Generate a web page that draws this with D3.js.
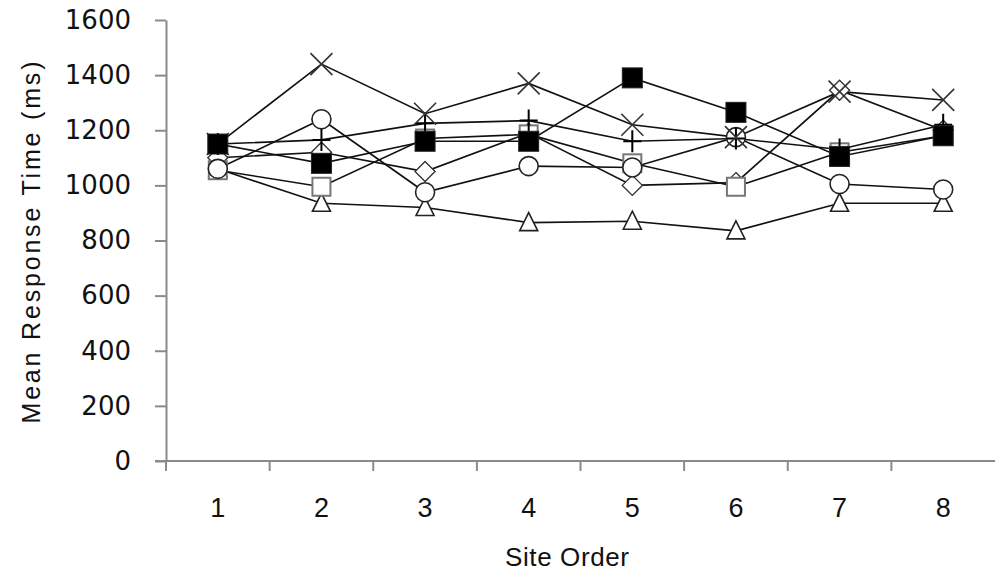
<!DOCTYPE html>
<html lang="en">
<head>
    <meta charset="UTF-8">
    <title>Mean Response Time by Site Order</title>
    <script src="https://d3js.org/d3.v7.min.js"></script>
    <style>
        body { margin: 0; background: #fff; }
    </style>
</head>
<body>
    <div id="chart"></div>
    <script>
        // Data
        const siteOrder = [1, 2, 3, 4, 5, 6, 7, 8];
        const yTicks = [0, 200, 400, 600, 800, 1000, 1200, 1400, 1600];

        const filledSquare = [1150, 1080, 1160, 1160, 1390, 1265, 1105, 1180];
        const crossX = [1150, 1440, 1260, 1370, 1220, 1175, 1340, 1310];
        const plus = [1150, 1165, 1225, 1235, 1160, 1170, 1130, 1220];
        const openSquare = [1055, 995, 1170, 1185, 1080, 995, 1120, 1180];
        const diamond = [1100, 1120, 1050, 1190, 1000, 1010, 1345, 1200];
        const circle = [1060, 1240, 975, 1070, 1065, 1175, 1005, 985];
        const triangle = [1060, 935, 920, 865, 870, 835, 935, 935];

        // drawing order: later series sit on top
        const series = [
            { name: "triangle", values: triangle },
            { name: "diamond", values: diamond },
            { name: "openSquare", values: openSquare },
            { name: "circle", values: circle },
            { name: "plus", values: plus },
            { name: "crossX", values: crossX },
            { name: "filledSquare", values: filledSquare }
        ];

        const svg = d3.select("#chart").append("svg")
            .attr("width", 995)
            .attr("height", 578);

        const margin = {top: 20, right: 0, bottom: 117, left: 166},
              width = 995 - margin.left - margin.right,
              height = 578 - margin.top - margin.bottom;

        const x = d3.scaleBand().domain(siteOrder).range([margin.left, margin.left + width]);
        const y = d3.scaleLinear().domain([0, 1600]).range([margin.top + height, margin.top]);
        const cx = d => x(d) + x.bandwidth() / 2;

        const axisColor = "#8a8a8a";

        // y axis
        const yAxis = svg.append("g")
            .attr("transform", `translate(${margin.left},0)`)
            .call(d3.axisLeft(y).tickValues(yTicks).tickFormat(d3.format("d"))
                .tickSize(11).tickPadding(24).tickSizeOuter(0));
        yAxis.select(".domain").attr("stroke", axisColor).attr("stroke-width", 2);
        yAxis.selectAll(".tick line").attr("stroke", axisColor).attr("stroke-width", 2);
        yAxis.selectAll("text")
            .style("font-family", "DejaVu Sans")
            .style("font-size", "26px")
            .attr("fill", "#111");

        // x axis: labels centred in bands, ticks on band edges
        const xAxis = svg.append("g")
            .attr("transform", `translate(0,${margin.top + height})`)
            .call(d3.axisBottom(x).tickSize(0).tickPadding(37));
        xAxis.select(".domain").remove();
        xAxis.selectAll("text")
            .style("font-family", "Liberation Sans Narrow, Liberation Sans")
            .style("font-size", "27px")
            .attr("fill", "#111");

        const xBase = margin.top + height;
        svg.append("line")
            .attr("x1", margin.left - 11).attr("x2", margin.left + width)
            .attr("y1", xBase).attr("y2", xBase)
            .attr("stroke", axisColor).attr("stroke-width", 2);
        svg.selectAll(".xtick")
            .data(siteOrder)
            .join("line")
            .attr("class", "xtick")
            .attr("x1", d => x(d)).attr("x2", d => x(d))
            .attr("y1", xBase).attr("y2", xBase + 10)
            .attr("stroke", axisColor).attr("stroke-width", 2);

        // axis titles
        svg.append("text")
            .attr("transform", `translate(40,${y(800) + 2}) rotate(-90)`)
            .attr("text-anchor", "middle")
            .attr("textLength", 362)
            .attr("lengthAdjust", "spacing")
            .style("font-family", "Liberation Sans Narrow, Liberation Sans")
            .style("font-size", "25px")
            .attr("fill", "#111")
            .text("Mean Response Time (ms)");

        svg.append("text")
            .attr("x", 567)
            .attr("y", 566)
            .attr("text-anchor", "middle")
            .attr("textLength", 124)
            .attr("lengthAdjust", "spacing")
            .style("font-family", "Liberation Sans Narrow, Liberation Sans")
            .style("font-size", "26px")
            .attr("fill", "#111")
            .text("Site Order");

        // lines
        const line = d3.line()
            .x((d, i) => cx(siteOrder[i]))
            .y(d => y(d));

        svg.selectAll(".series-line")
            .data(series)
            .join("path")
            .attr("class", "series-line")
            .attr("fill", "none")
            .attr("stroke", "#111")
            .attr("stroke-width", 1.6)
            .attr("d", d => line(d.values));

        // markers
        function drawMarker(g, name) {
            const s = 10;
            if (name === "filledSquare") {
                g.append("rect").attr("x", -s).attr("y", -s).attr("width", 2 * s).attr("height", 2 * s)
                    .attr("fill", "#000").attr("stroke", "#222").attr("stroke-width", 1);
            } else if (name === "openSquare") {
                g.append("rect").attr("x", -9).attr("y", -9).attr("width", 18).attr("height", 18)
                    .attr("fill", "#fff").attr("stroke", "#777").attr("stroke-width", 2);
            } else if (name === "circle") {
                g.append("circle").attr("r", 9.5)
                    .attr("fill", "#fff").attr("stroke", "#222").attr("stroke-width", 1.6);
            } else if (name === "diamond") {
                g.append("path").attr("d", "M0,-10L10,0L0,10L-10,0Z")
                    .attr("fill", "#fff").attr("stroke", "#333").attr("stroke-width", 1.4);
            } else if (name === "triangle") {
                g.append("path").attr("d", "M0,-10L9,8L-9,8Z")
                    .attr("fill", "#fff").attr("stroke", "#222").attr("stroke-width", 1.6);
            } else if (name === "crossX") {
                g.append("path").attr("d", "M-11,-11L11,11M-11,11L11,-11")
                    .attr("fill", "none").attr("stroke", "#333").attr("stroke-width", 1.6);
            } else if (name === "plus") {
                g.append("path").attr("d", "M-9,0L9,0M0,-11L0,11")
                    .attr("fill", "none").attr("stroke", "#000").attr("stroke-width", 2);
            }
        }

        series.forEach(sr => {
            sr.values.forEach((v, i) => {
                const g = svg.append("g")
                    .attr("transform", `translate(${cx(siteOrder[i])},${y(v)})`);
                drawMarker(g, sr.name);
            });
        });
    </script>
</body>
</html>
